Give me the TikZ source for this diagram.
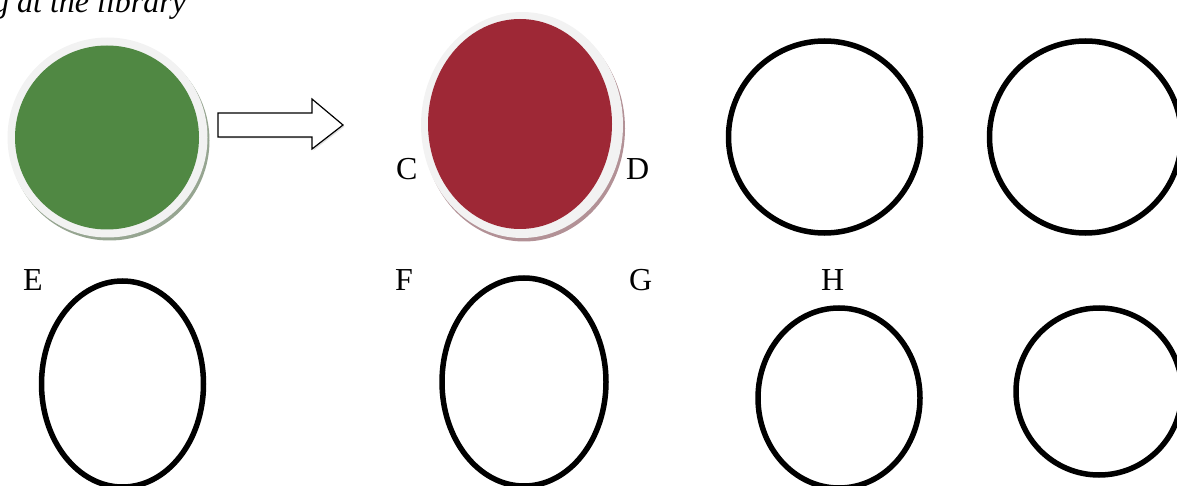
\documentclass[tikz,border=0pt]{standalone}
\usepackage{fontspec}
\setmainfont{Liberation Serif}
\begin{document}
\begin{tikzpicture}[x=1pt,y=-1pt,
  lbl/.style={inner sep=0pt,anchor=base west,font=\fontsize{32}{38}\selectfont},
  ring/.style={fill=ringgray},
  outline/.style={draw=black,line width=5.5pt}]
\definecolor{ringgray}{RGB}{242,242,242}
\definecolor{leafgreen}{RGB}{80,136,67}
\definecolor{greenshade}{RGB}{150,165,145}
\definecolor{winered}{RGB}{158,40,54}
\definecolor{redshade}{RGB}{178,145,150}
\useasboundingbox (0,0) rectangle (1177,486);
\clip (0,0) rectangle (1177,486);

% heading
\node[lbl,font=\fontsize{32}{38}\selectfont\itshape] (title) at (-7,13) {g at the library};

% green disc with light rim and soft shadow
\fill[greenshade] (109.5,140.5) circle (100);
\fill[ring] (107.5,137.5) circle (100);
\fill[leafgreen] (107,137.5) circle (92);

% block arrow
\fill[black!12] (219.5,114.5) -- (313.5,114.5) -- (313.5,100.5) -- (344.5,126.5)
  -- (313.5,150.5) -- (313.5,138.5) -- (219.5,138.5) -- cycle;
\draw[fill=white,line width=1.2pt,line join=miter] (218,113) -- (312,113) -- (312,99) -- (343,125)
  -- (312,149) -- (312,137) -- (218,137) -- cycle;

% red disc with light rim and soft shadow
\fill[redshade] (524,128.5) ellipse [x radius=101,y radius=113];
\fill[ring] (522,125) ellipse [x radius=101,y radius=113];
\fill[winered] (520,124) ellipse [x radius=92,y radius=105];

% outlined rings, top row
\draw[outline] (824.5,137) circle (96);
\draw[outline] (1085.5,137) circle (96);

% outlined rings, bottom row
\draw[outline] (122.5,384) ellipse [x radius=81,y radius=103];
\draw[outline] (524,382) ellipse [x radius=82,y radius=104];
\draw[outline] (839,398) ellipse [x radius=81,y radius=90];
\draw[outline] (1099,391.5) ellipse [x radius=83,y radius=83.5];

% letters
\node[lbl] (C) at (396,180) {C};
\node[lbl] (D) at (626,180) {D};
\node[lbl] (E) at (23,290) {E};
\node[lbl] (F) at (395,290) {F};
\node[lbl] (G) at (629,290) {G};
\node[lbl] (H) at (821,290) {H};
\end{tikzpicture}
\end{document}
